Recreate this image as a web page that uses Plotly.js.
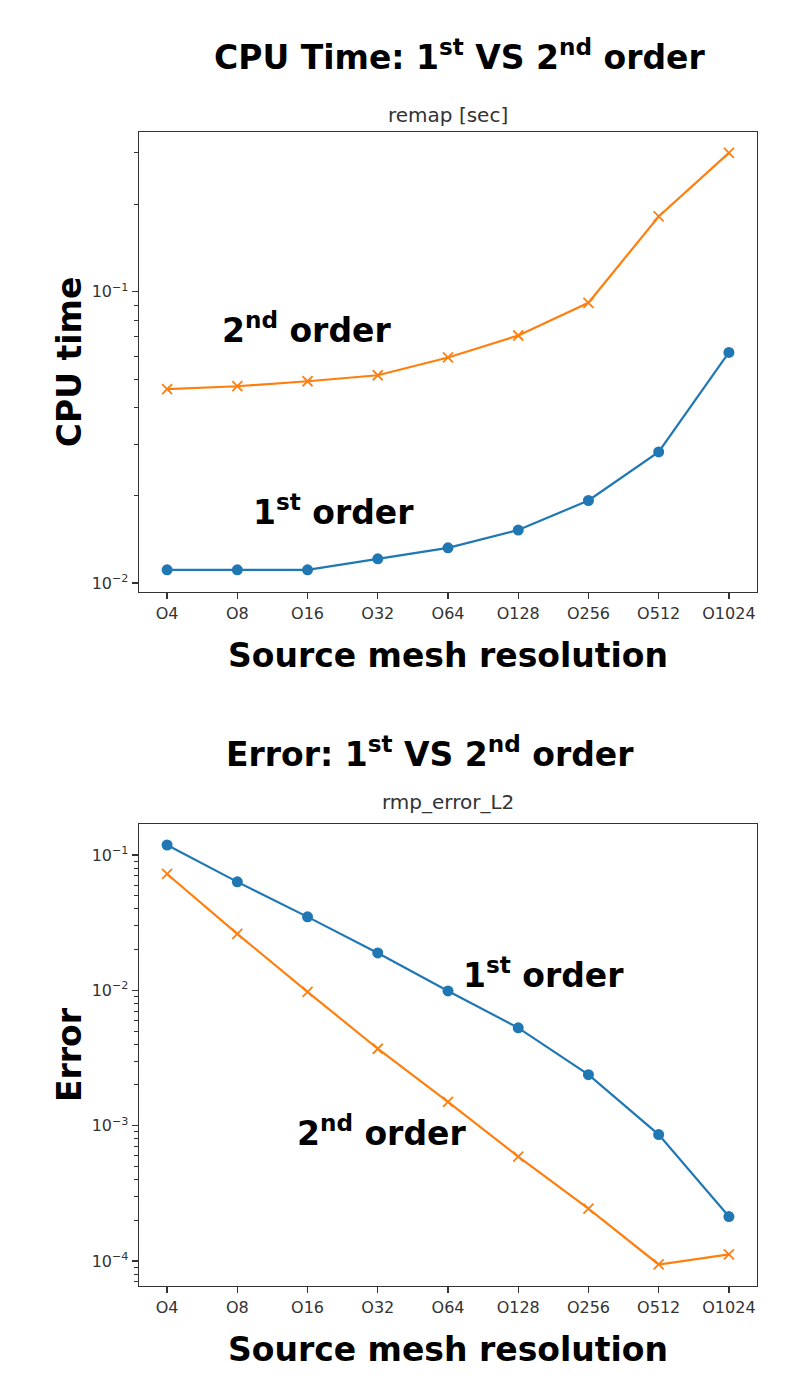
<!DOCTYPE html>
<html>
<head>
<meta charset="utf-8">
<script src="https://cdn.plot.ly/plotly-3.0.1.min.js"></script>
<style>html,body{margin:0;padding:0;background:#fff;}#chart{width:806px;height:1376px;}</style>
</head>
<body>
<div id="chart"></div>
<script>
const resolutions = ["O4","O8","O16","O32","O64","O128","O256","O512","O1024"];
const cpuFirstOrder  = [0.0111, 0.0111, 0.0111, 0.0121, 0.0132, 0.0152, 0.0192, 0.0282, 0.0619];
const cpuSecondOrder = [0.0463, 0.0474, 0.0493, 0.0517, 0.0595, 0.0708, 0.0917, 0.1815, 0.300];
const errFirstOrder  = [0.1185, 0.0633, 0.0349, 0.0189, 0.0099, 0.00528, 0.00238, 0.000859, 0.000213];
const errSecondOrder = [0.0724, 0.0261, 0.00975, 0.00370, 0.00150, 0.000590, 0.000244, 0.0000942, 0.0001117];
const cpuTickVals = [0.01, 0.1];
const errTickVals = [0.0001, 0.001, 0.01, 0.1];
const minorMantissas = [2, 3, 4, 5, 6, 7, 8, 9];
const cpuMinorDecades = [0.01, 0.1];
const errMinorDecades = [0.00001, 0.0001, 0.001, 0.01, 0.1];

const powerLabel = v => "10<sup>\u2212" + Math.round(-Math.log10(v)) + "</sup>";
const minorVals = decades => decades.flatMap(d => minorMantissas.map(m => m * d));

const blue = "#1f77b4", orange = "#ff7f0e";
const bigFont = {family: "DejaVu Sans", size: 33, color: "#000", weight: "bold"};
const tickFont = {family: "DejaVu Sans", size: 16, color: "#333"};
const subFont = {family: "DejaVu Sans", size: 20, color: "#333"};

const lineStyle = c => ({color: c, width: 2.2});
const traces = [
  {x: resolutions, y: cpuFirstOrder, xaxis: "x", yaxis: "y", mode: "lines+markers", name: "1st order",
   line: lineStyle(blue), marker: {symbol: "circle", size: 11, color: blue}},
  {x: resolutions, y: cpuSecondOrder, xaxis: "x", yaxis: "y", mode: "lines+markers", name: "2nd order",
   line: lineStyle(orange), marker: {symbol: "x-thin", size: 10, line: {color: orange, width: 1.8}}},
  {x: resolutions, y: errFirstOrder, xaxis: "x2", yaxis: "y2", mode: "lines+markers", name: "1st order",
   line: lineStyle(blue), marker: {symbol: "circle", size: 11, color: blue}},
  {x: resolutions, y: errSecondOrder, xaxis: "x2", yaxis: "y2", mode: "lines+markers", name: "2nd order",
   line: lineStyle(orange), marker: {symbol: "x-thin", size: 10, line: {color: orange, width: 1.8}}}
];

const xBase = {
  domain: [139/806, 757/806], range: [-0.4, 8.4], showline: true, mirror: true, linecolor: "#333", linewidth: 1.3,
  ticks: "outside", ticklen: 6, tickwidth: 1.3, tickcolor: "#333", tickfont: tickFont, showgrid: false, zeroline: false,
  automargin: false, fixedrange: true
};
const yBase = {
  type: "log", showline: true, mirror: true, linecolor: "#333", linewidth: 1.3,
  ticks: "outside", ticklen: 6, tickwidth: 1.3, tickcolor: "#333", tickfont: tickFont, showgrid: false, zeroline: false,
  automargin: false
};

const layout = {
  width: 806, height: 1376, showlegend: false,
  paper_bgcolor: "#fff", plot_bgcolor: "#fff",
  margin: {l: 0, r: 0, t: 0, b: 0},
  xaxis: Object.assign({}, xBase, {anchor: "y",
    title: {text: "Source mesh resolution", font: bigFont, standoff: 22}}),
  yaxis: Object.assign({}, yBase, {anchor: "x", domain: [1 - 592/1376, 1 - 132/1376],
    range: [-2.031, -0.451], tickmode: "array", tickvals: cpuTickVals, ticktext: cpuTickVals.map(powerLabel),
    minor: {tickmode: "array", tickvals: minorVals(cpuMinorDecades), ticks: "outside", ticklen: 3.5, tickwidth: 1, tickcolor: "#333", showgrid: false},
    title: {text: "CPU time", font: bigFont, standoff: 0}}),
  xaxis2: Object.assign({}, xBase, {anchor: "y2",
    title: {text: "Source mesh resolution", font: bigFont, standoff: 22}}),
  yaxis2: Object.assign({}, yBase, {anchor: "x2", domain: [1 - 1286/1376, 1 - 824/1376],
    range: [-4.185, -0.771], tickmode: "array", tickvals: errTickVals, ticktext: errTickVals.map(powerLabel),
    minor: {tickmode: "array", tickvals: minorVals(errMinorDecades), ticks: "outside", ticklen: 3.5, tickwidth: 1, tickcolor: "#333", showgrid: false},
    title: {text: "Error", font: bigFont, standoff: 0}}),
  annotations: [
    {text: "CPU Time: 1<sup>st</sup> VS 2<sup>nd</sup> order", xref: "paper", yref: "paper", x: 0.570, y: 1 - 55/1376,
     showarrow: false, font: bigFont, xanchor: "center", yanchor: "middle"},
    {text: "remap [sec]", xref: "paper", yref: "paper", x: 448/806, y: 1 - 115/1376,
     showarrow: false, font: subFont, xanchor: "center", yanchor: "middle"},
    {text: "Error: 1<sup>st</sup> VS 2<sup>nd</sup> order", xref: "paper", yref: "paper", x: 430/806, y: 1 - 752/1376,
     showarrow: false, font: bigFont, xanchor: "center", yanchor: "middle"},
    {text: "rmp_error_L2", xref: "paper", yref: "paper", x: 448/806, y: 1 - 802/1376,
     showarrow: false, font: subFont, xanchor: "center", yanchor: "middle"},
    {text: "2<sup>nd</sup> order", xref: "paper", yref: "paper", x: 306/806, y: 1 - 328/1376,
     showarrow: false, font: bigFont, xanchor: "center", yanchor: "middle"},
    {text: "1<sup>st</sup> order", xref: "paper", yref: "paper", x: 333/806, y: 1 - 511/1376,
     showarrow: false, font: bigFont, xanchor: "center", yanchor: "middle"},
    {text: "1<sup>st</sup> order", xref: "paper", yref: "paper", x: 543/806, y: 1 - 973/1376,
     showarrow: false, font: bigFont, xanchor: "center", yanchor: "middle"},
    {text: "2<sup>nd</sup> order", xref: "paper", yref: "paper", x: 381/806, y: 1 - 1131/1376,
     showarrow: false, font: bigFont, xanchor: "center", yanchor: "middle"}
  ]
};

Plotly.newPlot("chart", traces, layout, {displayModeBar: false, staticPlot: true});
</script>
</body>
</html>
